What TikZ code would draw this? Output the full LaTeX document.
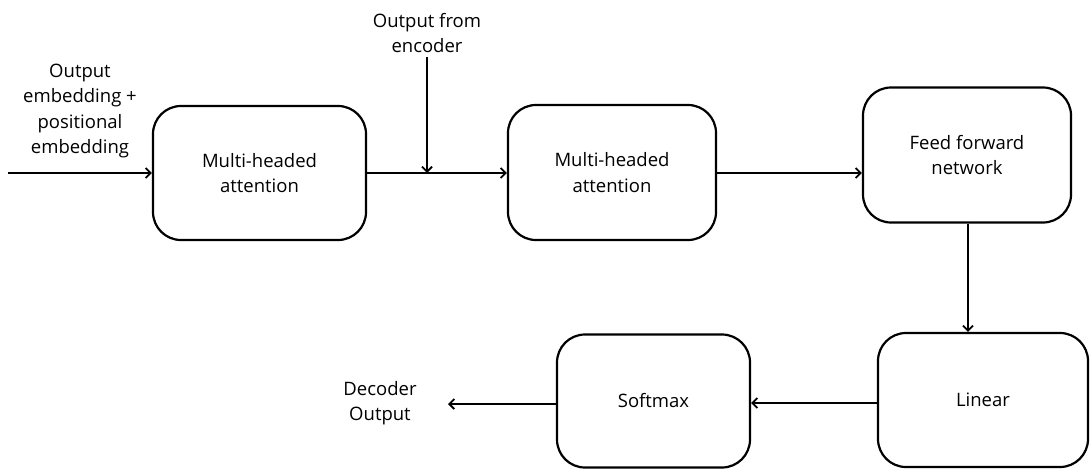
\documentclass[tikz,border=0pt]{standalone}
\usepackage{fontspec}
\setmainfont{Open Sans}
\usetikzlibrary{arrows.meta}

\tikzset{
  block/.style={draw, line width=2.2pt, rounded corners=28pt, align=center,
    inner sep=0pt},
  lbl/.style={align=center, inner sep=0.75pt},
  flow/.style={line width=2.2pt, -{Straight Barb[length=5pt,width=10pt,line width=1.8pt]}}
}

\begin{document}
\begin{tikzpicture}[x=1pt,y=1pt,yscale=-1,font=\fontsize{18.5}{25.5}\selectfont]
\useasboundingbox (0,0) rectangle (1092,472);

% Blocks
\node [block, minimum width=213pt, minimum height=134pt] (mha1) at (259.5,173) {Multi-headed\\attention};
\node [block, minimum width=208pt, minimum height=135pt] (mha2) at (612,172.5) {Multi-headed\\attention};
\node [block, minimum width=208pt, minimum height=135pt] (ffn) at (967,155) {Feed forward\\network};
\node [block, minimum width=210pt, minimum height=134pt] (linear) at (983,400) {Linear};
\node [block, minimum width=193pt, minimum height=133pt] (softmax) at (653.5,401) {Softmax};

% Text Node
\node [lbl] (inlbl) at (80,111) {Output\\embedding +\\positional\\embedding};
% Text Node
\node [lbl] (enclbl) at (427,33) {Output from\\encoder};
% Text Node
\node [lbl] (outlbl) at (380,403) {Decoder\\Output};

% free ends
\coordinate (start) at (8,173);
\coordinate (join) at (427,173);
\coordinate (encend) at (427,57);
\coordinate (finish) at (448,404);

% Arrows
\draw [flow] (start) -- (mha1.west |- start);
\draw [flow] (mha1.east |- start) -- (mha2.west |- start);
\draw [flow] (encend) -- (join);
\draw [flow] (mha2.east |- start) -- (ffn.west |- start);
\draw [flow] (ffn.south -| 968,0) -- (linear.north -| 968,0);
\draw [flow] (linear.west |- 0,403) -- (softmax.east |- 0,403);
\draw [flow] (softmax.west |- finish) -- (finish);

\end{tikzpicture}
\end{document}
